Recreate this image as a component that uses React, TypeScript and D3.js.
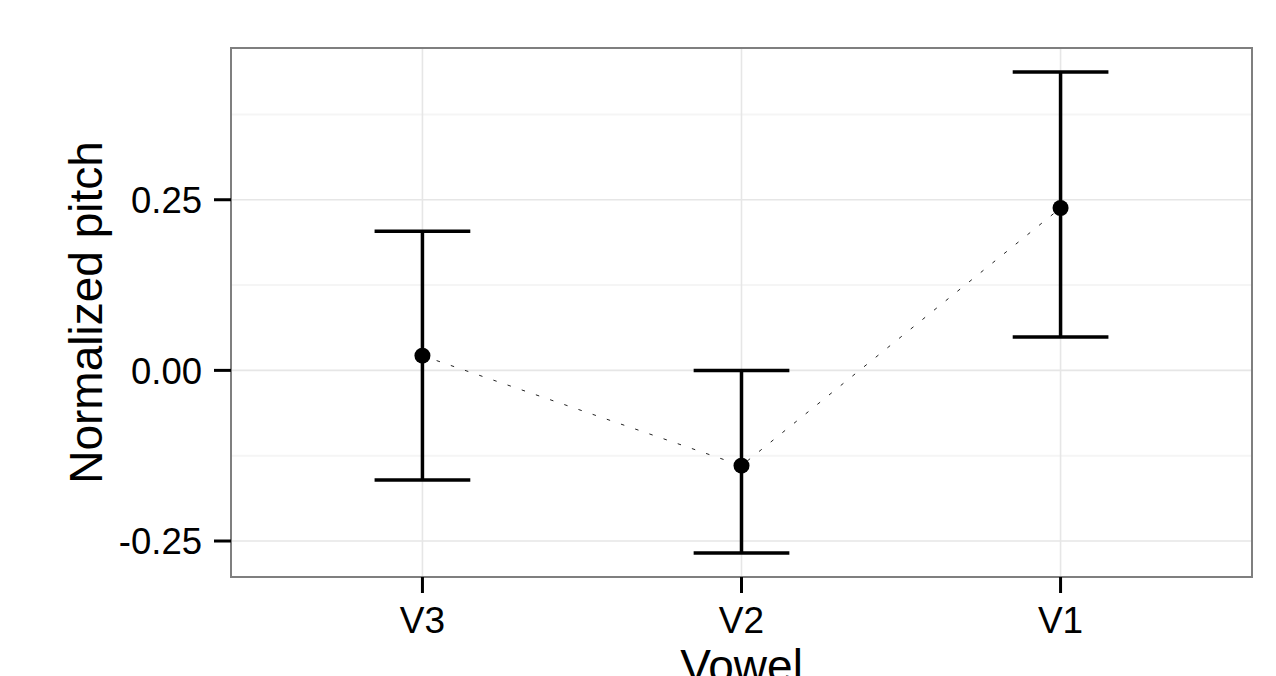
import React from "react";
import * as d3 from "d3";

const vowels = ["V3", "V2", "V1"];
const means = [0.0215, -0.1396, 0.2379];
const upper = [0.204, 0.0, 0.4371];
const lower = [-0.1605, -0.2675, 0.0489];
const yTicks = [-0.25, 0, 0.25];
const yMinor = [-0.125, 0.125, 0.375];

const W = 1276;
const H = 676;
const panel = { left: 231, top: 48, right: 1252, bottom: 577 };

export default function App() {
  const lo = d3.min(lower)!;
  const hi = d3.max(upper)!;
  const pad = (hi - lo) * 0.05;
  const y = d3.scaleLinear().domain([lo - pad, hi + pad]).range([panel.bottom, panel.top]);
  const x = d3.scaleLinear().domain([0.4, vowels.length + 0.6]).range([panel.left, panel.right]);
  const xi = (i: number) => x(i + 1);
  const capHalf = x(1.15) - x(1);
  const line = d3
    .line<number>()
    .x((_, i) => xi(i))
    .y((d) => y(d));
  const fmt = (t: number) => d3.format(".2f")(t).replace("\u2212", "-");
  const font = "'Liberation Sans', Arial, Helvetica, sans-serif";

  return (
    <svg
      width={W}
      height={H}
      style={{ position: "absolute", left: 0, top: 0, background: "#fff" }}
      fontFamily={font}
    >
      <rect x={0} y={0} width={W} height={H} fill="#fff" />
      <rect
        x={panel.left}
        y={panel.top}
        width={panel.right - panel.left}
        height={panel.bottom - panel.top}
        fill="#fff"
      />
      {yMinor.map((t) => (
        <line key={"mn" + t} x1={panel.left} x2={panel.right} y1={y(t)} y2={y(t)} stroke="#f5f5f5" strokeWidth={2} />
      ))}
      {yTicks.map((t) => (
        <line key={"mj" + t} x1={panel.left} x2={panel.right} y1={y(t)} y2={y(t)} stroke="#e6e6e6" strokeWidth={1.6} />
      ))}
      {vowels.map((v, i) => (
        <line key={"vx" + v} x1={xi(i)} x2={xi(i)} y1={panel.top} y2={panel.bottom} stroke="#e6e6e6" strokeWidth={1.6} />
      ))}
      <path d={line(means) || ""} fill="none" stroke="#222" strokeWidth={1} strokeDasharray="3.5 11.5" />
      {vowels.map((v, i) => (
        <g key={"eb" + v} stroke="#000" strokeWidth={3.5}>
          <line x1={xi(i)} x2={xi(i)} y1={y(upper[i])} y2={y(lower[i])} />
          <line x1={xi(i) - capHalf} x2={xi(i) + capHalf} y1={y(upper[i])} y2={y(upper[i])} />
          <line x1={xi(i) - capHalf} x2={xi(i) + capHalf} y1={y(lower[i])} y2={y(lower[i])} />
        </g>
      ))}
      {vowels.map((v, i) => (
        <circle key={"pt" + v} cx={xi(i)} cy={y(means[i])} r={8} fill="#000" />
      ))}
      <rect
        x={panel.left}
        y={panel.top}
        width={panel.right - panel.left}
        height={panel.bottom - panel.top}
        fill="none"
        stroke="#7f7f7f"
        strokeWidth={2}
      />
      {yTicks.map((t) => (
        <g key={"yt" + t}>
          <line x1={panel.left - 17} x2={panel.left} y1={y(t)} y2={y(t)} stroke="#000" strokeWidth={3} />
          <text
            x={panel.left - 29}
            y={y(t)}
            dy="0.36em"
            textAnchor="end"
            fontSize={36.5}
            fill="#000"
          >
            {fmt(t)}
          </text>
        </g>
      ))}
      {vowels.map((v, i) => (
        <g key={"xt" + v}>
          <line x1={xi(i)} x2={xi(i)} y1={panel.bottom} y2={panel.bottom + 16} stroke="#000" strokeWidth={3} />
          <text x={xi(i)} y={panel.bottom + 56} textAnchor="middle" fontSize={37} fill="#000">
            {v}
          </text>
        </g>
      ))}
      <text x={(panel.left + panel.right) / 2} y={682} textAnchor="middle" fontSize={46} fill="#000">
        Vowel
      </text>
      <text
        transform={`translate(102,${(panel.top + panel.bottom) / 2}) rotate(-90)`}
        textAnchor="middle"
        fontSize={46}
        fill="#000"
      >
        Normalized pitch
      </text>
    </svg>
  );
}
